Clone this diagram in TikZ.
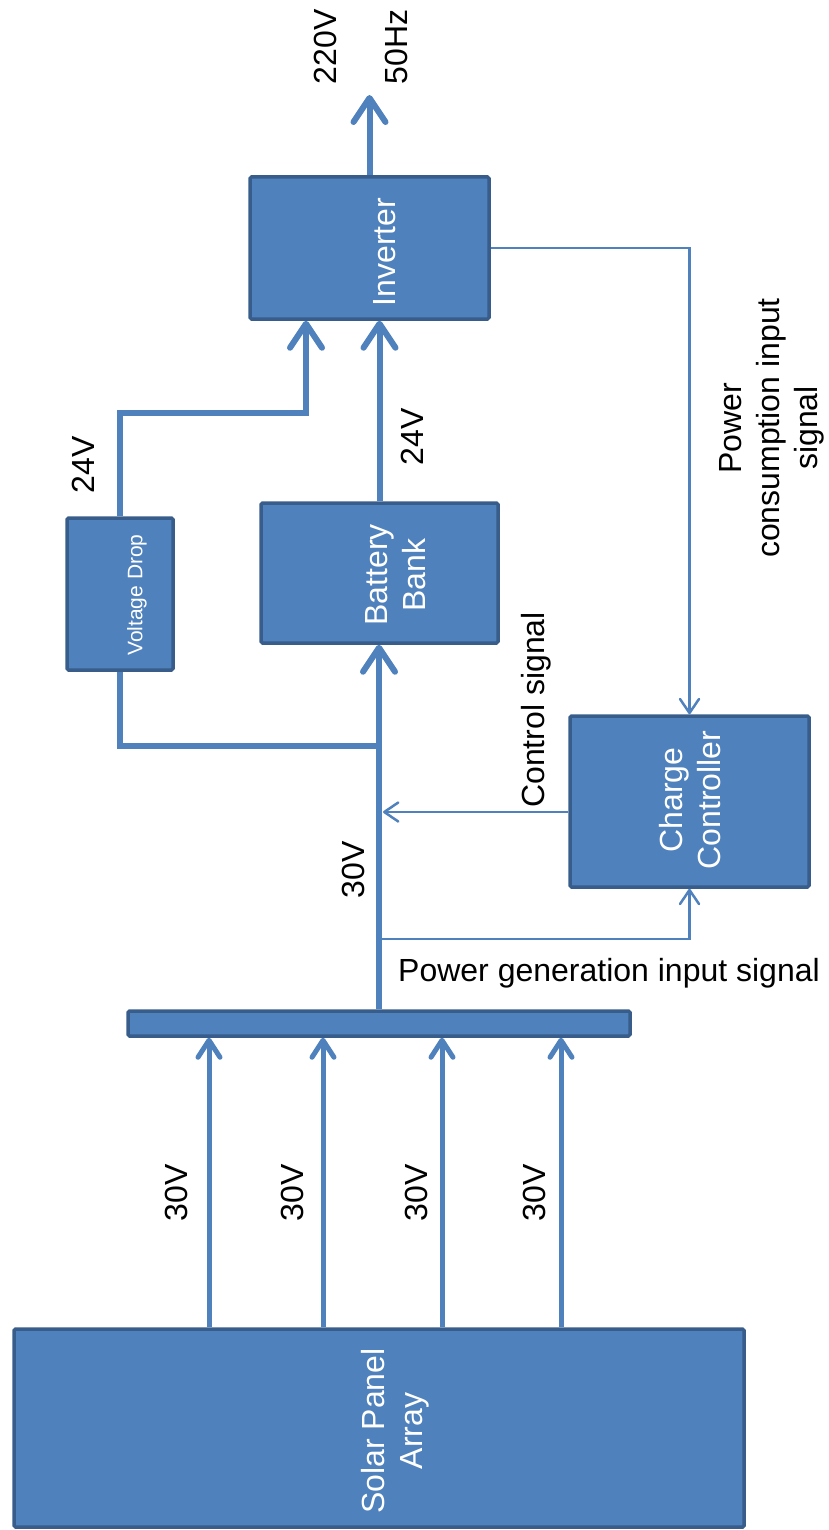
\documentclass[tikz,border=0pt]{standalone}
\usepackage{fontspec}
\setmainfont{Liberation Sans}
\usetikzlibrary{arrows.meta}
\definecolor{boxblue}{HTML}{4F81BD}
\definecolor{boxedge}{HTML}{385D8A}

\begin{document}
\begin{tikzpicture}[
  x=1pt, y=-1pt,
  font=\fontsize{32}{38}\selectfont,
  blk/.style={draw=boxedge, fill=boxblue, line width=3.5pt,
    rounded corners=1.5pt, inner sep=0pt},
  blktext/.style={rotate=90, text=white, align=center, inner sep=0pt},
  tag/.style={rotate=90, align=center, inner sep=0pt},
  feed/.style={draw=boxblue, line width=6pt},
  bigarrow/.style={feed, -{Straight Barb[length=24pt, width=32pt,
    line cap=round, line join=round]}},
  panelarrow/.style={draw=boxblue, line width=5pt, -{Straight Barb[length=17pt,
    width=22pt, line cap=round, line join=round]}},
  signal/.style={draw=boxblue, line width=2.5pt, -{Straight Barb[length=14pt,
    width=19pt, line cap=round, line join=round]}}
]
\useasboundingbox (0,0) rectangle (829,1530);

% blocks
\node[blk, minimum width=239pt, minimum height=142pt] (inverter) at (369.5,248) {};
\node[blktext] at (385,252) {Inverter};
\node[blk, minimum width=237pt, minimum height=140pt] (battery) at (379.5,573) {};
\node[blktext] at (396,575) {Battery\\Bank};
\node[blk, minimum width=106pt, minimum height=152pt] (vdrop) at (120,594) {};
\node[blktext, font=\fontsize{21}{25}\selectfont] at (137,595) {Voltage Drop};
\node[blk, minimum width=239pt, minimum height=171pt] (charger) at (689.5,801.5) {};
\node[blktext] at (690,800) {Charge\\Controller};
\node[blk, minimum width=502pt, minimum height=25pt] (busbar) at (379,1023.5) {};
\node[blk, minimum width=730pt, minimum height=198pt] (solar) at (379,1428) {};
\node[blktext] at (395,1431) {Solar Panel\\Array};

% power lines
\coordinate (acout) at (369.5,95);
\coordinate (vdtop) at (306,413);
\coordinate (tap) at (379,746);
\draw[bigarrow] (inverter.north) -- (acout);
\draw[bigarrow] (battery.north) -- (battery.north |- inverter.south);
\draw[bigarrow] (vdrop.north) |- (vdtop) -- (vdtop |- inverter.south);
\draw[bigarrow] (busbar.north) -- (busbar.north |- battery.south);
\draw[feed] (tap) -| (vdrop.south);

\foreach \px/\lx [count=\i] in {209/176, 323/292, 442/416, 561/534} {
  \coordinate (p\i) at (\px,0);
  \draw[panelarrow] (solar.north -| p\i) -- (busbar.south -| p\i);
  \node[tag] at (\lx,1193) {30V};
}

% signals
\coordinate (ctrl) at (383,812);
\coordinate (gentap) at (379,939);
\draw[signal] (inverter.east) -| (charger.north);
\draw[signal] (charger.west |- ctrl) -- (ctrl);
\draw[signal] (gentap) -| (charger.south);

% labels
\node[tag] (volt) at (325,47) {220V};
\node[tag] (freq) at (396,47) {50Hz};
\node[tag] at (412,437) {24V};
\node[tag] at (83,465) {24V};
\node[tag] at (353,870) {30V};
\node[tag] at (536,710) {Control signal};
\node[tag] at (772,428) {Power\\consumption input\\signal};
\node[anchor=base west, inner sep=0pt] at (398,981) {Power generation input signal};
\end{tikzpicture}
\end{document}
